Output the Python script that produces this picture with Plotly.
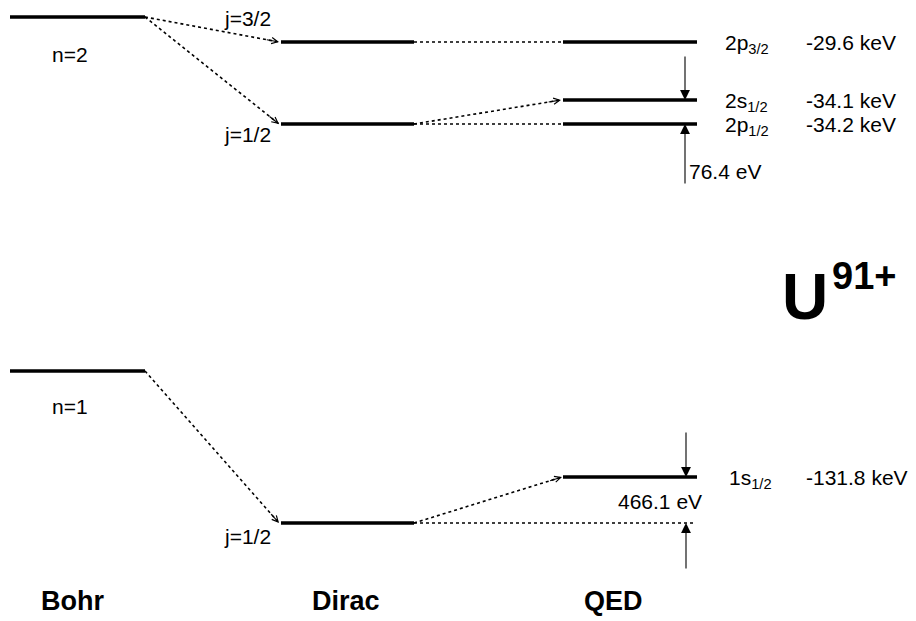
import plotly.graph_objects as go
import math

# ---------------- data ----------------
schemes = ["Bohr", "Dirac", "QED"]
bohr_labels = ["n=2", "n=1"]
dirac_labels = ["j=3/2", "j=1/2", "j=1/2"]
qed_states = ["2p<sub>3/2</sub>", "2s<sub>1/2</sub>", "2p<sub>1/2</sub>", "1s<sub>1/2</sub>"]
qed_energies_kev = [-29.6, -34.1, -34.2, -131.8]
splittings_ev = [76.4, 466.1]
ion_symbol = "U"
ion_charge = "91+"

# ---------------- schematic layout (diagram units, not to scale) ----------------
col_span = {"Bohr": (10, 145), "Dirac": (281, 414), "QED": (563, 697)}
y_bohr = {"n=2": 17, "n=1": 371}
y_dirac = [42, 124, 523]          # j=3/2, j=1/2 (n=2), j=1/2 (n=1)
y_qed = [42, 100, 124, 477]       # 2p3/2, 2s1/2, 2p1/2, 1s1/2
scheme_x = {"Bohr": 72, "Dirac": 346, "QED": 613}

FONT = "Liberation Sans, Arial, sans-serif"
FS = 21
BLACK = "#000000"

fig = go.Figure()
annos = []

def level(col, y):
    x0, x1 = col_span[col]
    fig.add_trace(go.Scatter(x=[x0, x1], y=[y, y], mode="lines",
                             line=dict(color=BLACK, width=3.3),
                             hoverinfo="skip", showlegend=False))

def dotted(x0, y0, x1, y1, head=False):
    fig.add_trace(go.Scatter(x=[x0, x1], y=[y0, y1], mode="lines",
                             line=dict(color=BLACK, width=1.6, dash="dot"),
                             hoverinfo="skip", showlegend=False))
    if head:
        L = math.hypot(x1 - x0, y1 - y0)
        ux, uy = (x1 - x0) / L, (y1 - y0) / L
        annos.append(dict(x=x1, y=y1, ax=x1 - 14 * ux, ay=y1 - 14 * uy,
                          xref="x", yref="y", axref="x", ayref="y",
                          text="", showarrow=True, arrowhead=5,
                          arrowsize=1.1, arrowwidth=1.1, arrowcolor=BLACK))

def solid_arrow(x, ytail, ytip):
    annos.append(dict(x=x, y=ytip, ax=x, ay=ytail,
                      xref="x", yref="y", axref="x", ayref="y",
                      text="", showarrow=True, arrowhead=2,
                      arrowsize=1.8, arrowwidth=1.1, arrowcolor=BLACK))

def txt(x, y, s, size=FS, xanchor="center", bold=False):
    annos.append(dict(x=x, y=y, xref="x", yref="y", text=s, showarrow=False,
                      xanchor=xanchor, yanchor="middle",
                      font=dict(family=FONT, size=size, color=BLACK,
                                weight="bold" if bold else "normal")))

# levels
for lab in bohr_labels:
    level("Bohr", y_bohr[lab])
for y in y_dirac:
    level("Dirac", y)
for y in y_qed:
    level("QED", y)

bx1 = col_span["Bohr"][1]
dx0, dx1 = col_span["Dirac"]
qx0, qx1 = col_span["QED"]

# Bohr -> Dirac
dotted(bx1, y_bohr["n=2"], dx0 - 2, y_dirac[0], head=True)
dotted(bx1, y_bohr["n=2"], dx0 - 2, y_dirac[1], head=True)
dotted(bx1, y_bohr["n=1"], dx0 - 2, y_dirac[2], head=True)
# Dirac -> QED
dotted(dx1, y_dirac[0], qx0, y_qed[0])
dotted(dx1, y_dirac[1], qx0, y_qed[2])
dotted(dx1, y_dirac[1], qx0 - 2, y_qed[1], head=True)
dotted(dx1, y_dirac[2], qx0 - 1, y_qed[3], head=True)
dotted(dx1, y_dirac[2], qx1 - 2, y_dirac[2])

# Lamb shift arrows
ax_x = qx1 - 12
solid_arrow(ax_x, y_qed[0] + 13, y_qed[1])
solid_arrow(ax_x, y_qed[2] + 61, y_qed[2])
solid_arrow(ax_x + 1, y_qed[3] - 46, y_qed[3])
solid_arrow(ax_x + 1, y_dirac[2] + 47, y_dirac[2])

# labels
txt(70, y_bohr["n=2"] + 37, bohr_labels[0])
txt(70, y_bohr["n=1"] + 35, bohr_labels[1])
txt(247, y_dirac[0] - 24, dirac_labels[0])
txt(247, y_dirac[1] + 10, dirac_labels[1])
txt(247, y_dirac[2] + 13, dirac_labels[2])

for i, (s, e) in enumerate(zip(qed_states, qed_energies_kev)):
    xs = 723 if i < 3 else 727
    txt(xs, y_qed[i] + 2, s, xanchor="left")
    txt(804, y_qed[i], f"{e:.1f} keV", xanchor="left")

txt(687, y_qed[2] + 47, f"{splittings_ev[0]:.1f} eV", xanchor="left")
txt(704, y_qed[3] + 24, f"{splittings_ev[1]:.1f} eV", xanchor="right")

# ion label
txt(780, 297, ion_symbol, size=64, xanchor="left", bold=True)
txt(830, 276, ion_charge, size=38, xanchor="left", bold=True)

# scheme names
for name in schemes:
    txt(scheme_x[name], 601, name, size=27, bold=True)

fig.update_layout(
    width=916, height=621,
    margin=dict(l=0, r=0, t=0, b=0),
    paper_bgcolor="white", plot_bgcolor="white",
    xaxis=dict(range=[0, 916], visible=False, fixedrange=True),
    yaxis=dict(range=[621, 0], visible=False, fixedrange=True),
    annotations=annos,
    showlegend=False,
)

fig.write_html("out.html")
